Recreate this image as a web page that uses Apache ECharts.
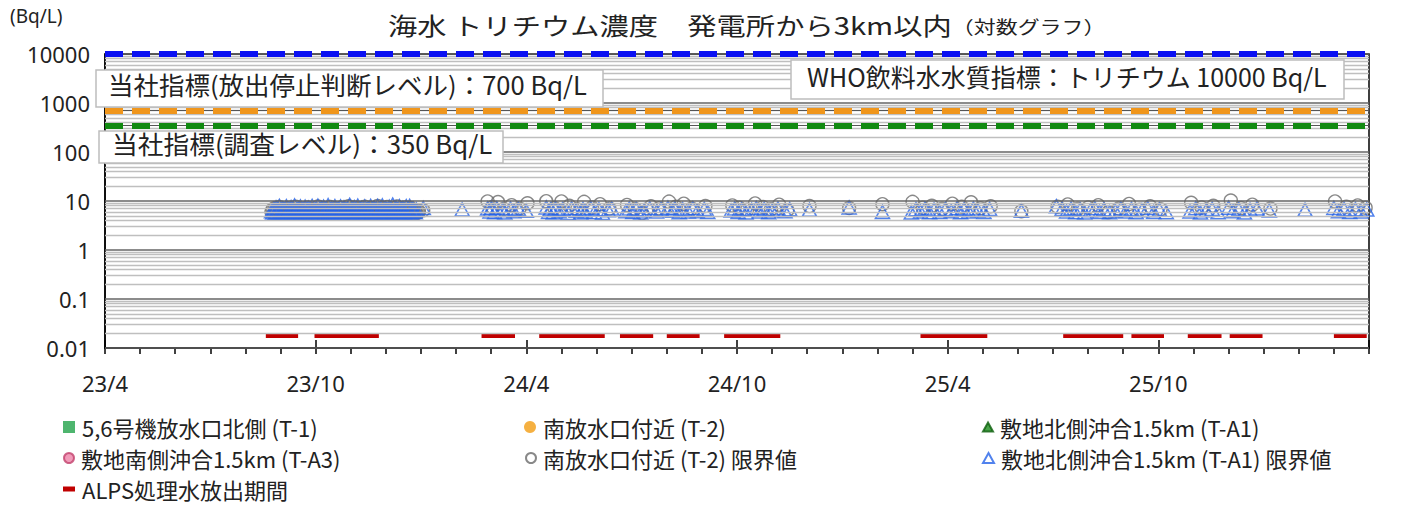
<!DOCTYPE html>
<html><head><meta charset="utf-8">
<script src="https://cdn.jsdelivr.net/npm/echarts@6/dist/echarts.min.js"></script>
<style>html,body{margin:0;padding:0;background:#fff}#c{width:1408px;height:506px}</style>
</head><body><div id="c"></div>
<script>
// ---------- DATA ----------
const xTickLabels = ['23/4','23/10','24/4','24/10','25/4','25/10'];
const yTickLabels = ['0.01','0.1','1','10','100','1000','10000'];
const refValues = [10000, 700, 350];        // WHO, 放出停止判断, 調査レベル
const alpsLevel = 0.018;
const alpsPeriods = [
  ['2023-08-19','2023-09-16'],['2023-09-30','2023-11-25'],
  ['2024-02-22','2024-03-22'],['2024-04-12','2024-06-08'],
  ['2024-06-21','2024-07-20'],['2024-08-01','2024-08-30'],
  ['2024-09-20','2024-11-08'],['2025-03-08','2025-05-05'],
  ['2025-07-10','2025-09-01'],['2025-09-08','2025-10-06'],
  ['2025-10-27','2025-11-25'],['2025-12-02','2025-12-31'],
  ['2026-03-01','2026-03-30']
];
// daily detection-limit values, first discharge period (start date + one value per day)
const dailyStart = '2023-08-24';
const tA1Daily = [6.2,5.8,6.9,5.6,7.4,6.0,6.6,7.9,5.7,6.3,7.1,5.9,6.5,7.8,5.6,6.1,6.8,7.5,5.8,6.4,8.1,6.0,5.7,7.0,6.3,7.7,5.9,6.6,6.1,7.6,5.6,6.9,7.3,6.2,5.8,7.9,6.4,6.0,6.7,5.7,8.0,6.5,5.9,7.2,6.1,7.6,5.6,6.8,6.3,8.2,5.8,6.5,7.1,6.0,5.7,7.8,6.4,6.1,6.9,5.9,7.7,6.2,5.6,7.4,6.6,6.0,7.0,5.8,8.3,6.3,6.7,5.7,7.5,6.1,6.4,8.0,5.9,6.8,7.2,6.0,5.6,7.7,6.5,6.2,7.0,5.8,7.9,6.6,6.0,7.3,5.7,6.4,7.9,6.1,5.9,6.9,8.1,6.3,5.6,7.1,6.5,6.0,7.6,5.8,6.7,8.4,6.2,5.7,7.4,6.4,6.0,7.8,5.9,6.6,7.2,6.1,5.6,7.8,6.3,6.8,7.9,5.8,6.5,7.0,6.2,5.9,6.7];
const t2Daily = [6.0,6.8,5.6,7.2,6.3,5.8,6.6,7.5,5.7,6.2,6.9,5.9,6.4,7.0,5.6,6.1,7.3,6.5,5.8,6.7,6.0,7.6,5.7,6.3,6.9,5.9,6.2,7.1,5.6,6.6,6.0,7.4,5.8,6.4,6.8,5.7,6.1,7.0,6.5,5.9,7.7,6.2,5.6,6.7,6.0,7.2,5.8,6.4,6.9,5.7,6.3,7.5,6.0,5.9,6.6,7.1,5.6,6.2,6.8,5.8,7.3,6.4,5.7,6.1,7.0,6.5,5.9,7.8,6.0,5.6,6.7,6.3,7.4,5.8,6.2,6.9,5.7,6.5,7.1,6.0,5.9,7.6,6.3,5.6,6.8,6.1,7.2,5.8,6.4,7.0,5.7,6.6,7.9,6.0,5.9,6.3,7.3,5.6,6.7,6.2,7.5,5.8,6.1,6.9,5.7,6.4,7.1,6.0,5.6,7.7,6.5,5.9,6.2,7.0,5.8,6.6,7.4,5.7,6.3,5.6,6.8,7.2,6.1,5.9,5.5,6.0,5.6,5.8,6.1];
// later sampling (date, value)
const tA1Later = [
  ['2024-01-03',7.2],['2024-02-06',6.7],
  ['2024-02-27',7.0],['2024-02-29',6.1],['2024-03-01',7.3],['2024-03-04',5.9],['2024-03-06',7.1],['2024-03-11',6.5],['2024-03-13',5.8],['2024-03-18',7.0],['2024-03-21',6.2],['2024-03-25',6.9],['2024-04-01',6.3],
  ['2024-04-18',7.4],['2024-04-20',6.0],['2024-04-22',6.9],['2024-04-24',5.8],['2024-04-26',7.0],['2024-04-29',6.2],['2024-05-02',6.8],['2024-05-07',5.7],['2024-05-10',7.1],['2024-05-14',6.3],['2024-05-18',5.8],['2024-05-20',6.9],['2024-05-22',6.1],['2024-05-27',7.2],['2024-05-30',5.9],['2024-06-03',6.8],['2024-06-06',5.7],['2024-06-11',6.5],['2024-06-14',7.0],
  ['2024-06-26',6.2],['2024-06-29',7.0],['2024-07-02',6.0],['2024-07-05',6.8],['2024-07-09',5.8],['2024-07-12',6.4],['2024-07-17',7.1],['2024-07-23',6.1],['2024-07-27',6.9],
  ['2024-08-02',7.3],['2024-08-06',6.3],['2024-08-08',7.0],['2024-08-12',5.9],['2024-08-15',6.8],['2024-08-20',6.1],['2024-08-24',7.1],['2024-08-28',6.2],['2024-09-03',6.9],['2024-09-06',6.0],
  ['2024-09-26',6.4],['2024-09-29',7.0],['2024-10-02',6.0],['2024-10-05',6.8],['2024-10-09',5.8],['2024-10-14',6.6],['2024-10-18',7.2],['2024-10-21',6.1],['2024-10-25',6.9],['2024-10-29',5.9],['2024-11-01',6.4],['2024-11-06',7.0],['2024-11-12',6.2],['2024-11-16',6.8],
  ['2024-12-03',6.6],['2025-01-07',7.4],['2025-02-05',6.0],
  ['2025-02-28',5.8],['2025-03-04',6.8],['2025-03-08',6.1],['2025-03-12',7.0],['2025-03-16',5.9],['2025-03-20',6.7],['2025-03-25',6.0],['2025-03-30',6.9],['2025-04-04',6.2],['2025-04-09',7.1],['2025-04-12',5.9],['2025-04-15',6.8],['2025-04-19',6.1],['2025-04-23',7.0],['2025-04-27',6.4],['2025-05-02',6.0],['2025-05-07',6.9],
  ['2025-06-04',6.3],
  ['2025-07-04',7.8],['2025-07-09',6.9],['2025-07-13',6.1],['2025-07-17',7.0],['2025-07-21',5.9],['2025-07-25',6.7],['2025-07-29',5.8],['2025-08-03',6.5],['2025-08-07',7.1],['2025-08-11',6.0],['2025-08-15',6.8],['2025-08-20',5.9],['2025-08-25',6.3],['2025-08-30',7.0],['2025-09-03',6.1],['2025-09-08',6.9],['2025-09-12',5.9],['2025-09-17',6.5],['2025-09-22',7.2],['2025-09-27',6.0],['2025-10-02',6.7],['2025-10-08',5.9],
  ['2025-10-29',6.1],['2025-11-03',7.1],['2025-11-07',5.8],['2025-11-12',6.5],['2025-11-17',6.9],['2025-11-22',5.9],['2025-12-01',7.3],['2025-12-05',6.2],['2025-12-10',6.8],['2025-12-15',5.8],['2025-12-20',6.6],['2025-12-26',7.0],['2026-01-06',6.4],
  ['2026-02-06',6.6],
  ['2026-03-01',7.2],['2026-03-05',6.2],['2026-03-10',6.9],['2026-03-15',6.0],['2026-03-20',6.8],['2026-03-25',6.1],['2026-03-30',6.7]
];
const t2Later = [
  ['2023-12-30',6.1],['2024-01-03',6.5],
  ['2024-02-27',9.8],['2024-03-02',7.5],['2024-03-07',9.5],['2024-03-12',6.9],['2024-03-19',8.2],['2024-03-26',7.0],['2024-04-02',9.0],
  ['2024-04-18',9.9],['2024-04-25',7.2],['2024-05-01',9.8],['2024-05-08',8.0],['2024-05-15',6.8],['2024-05-21',9.6],['2024-05-28',7.4],['2024-06-04',8.6],['2024-06-12',7.0],
  ['2024-06-27',8.3],['2024-07-04',6.9],['2024-07-10',5.6],['2024-07-18',7.8],['2024-07-25',7.1],
  ['2024-08-03',9.7],['2024-08-09',7.6],['2024-08-16',8.8],['2024-08-23',7.0],['2024-09-04',7.9],
  ['2024-09-27',8.1],['2024-10-03',7.3],['2024-10-10',6.6],['2024-10-17',8.9],['2024-10-24',7.5],['2024-10-31',6.8],['2024-11-07',8.4],['2024-11-14',6.5],
  ['2024-12-03',7.9],['2025-01-07',7.2],['2025-02-05',8.6],
  ['2025-03-01',9.6],['2025-03-10',7.3],['2025-03-18',8.0],['2025-03-27',6.9],['2025-04-05',8.8],['2025-04-13',7.6],['2025-04-21',9.4],['2025-04-29',7.1],['2025-05-08',7.8],
  ['2025-06-04',6.2],
  ['2025-07-05',7.6],['2025-07-14',8.5],['2025-07-23',6.9],['2025-08-01',7.4],['2025-08-10',8.2],['2025-08-19',5.9],['2025-08-28',7.0],['2025-09-06',8.7],['2025-09-15',6.6],['2025-09-24',7.8],['2025-10-03',6.8],
  ['2025-10-30',9.2],['2025-11-08',7.4],['2025-11-18',8.0],['2025-12-03',10.2],['2025-12-12',7.2],['2025-12-22',8.4],['2026-01-07',7.0],
  ['2026-03-02',9.8],['2026-03-12',7.6],['2026-03-22',8.1],['2026-03-29',7.3]
];

// ---------- HELPERS ----------
function mi(d){ const p=d.split('-').map(Number); const dim=new Date(p[0],p[1],0).getDate(); return (p[0]-2023)*12+(p[1]-4)+(p[2]-1)/dim; }
function dailyPoints(start, vals){ const t0=new Date(start+'T00:00:00'); return vals.map((v,i)=>{const d=new Date(t0.getTime()+i*86400000); const s=d.getFullYear()+'-'+(d.getMonth()+1)+'-'+d.getDate(); return [mi(s),v];}); }
const FONT='"Noto Sans CJK JP","Noto Sans",sans-serif';
const minorVals=[], majorVals=[];
for(let e=-2;e<=4;e++){ majorVals.push(Math.pow(10,e)); if(e<4) for(let k=2;k<=9;k++) minorVals.push(k*Math.pow(10,e)); }
const refColors=['#0a10f2','#f0961c','#118a11'];

const tA1Pts = dailyPoints(dailyStart,tA1Daily).concat(tA1Later.map(p=>[mi(p[0]),p[1]]));
const t2Pts = dailyPoints(dailyStart,t2Daily).concat(t2Later.map(p=>[mi(p[0]),p[1]]));
const alpsData = alpsPeriods.map(p=>[mi(p[0]),mi(p[1]),alpsLevel]);

const names = ['5,6号機放水口北側 (T-1)','南放水口付近 (T-2)','敷地北側沖合1.5km (T-A1)','敷地南側沖合1.5km (T-A3)','南放水口付近 (T-2) 限界値','敷地北側沖合1.5km (T-A1) 限界値','ALPS処理水放出期間'];

const chart = echarts.init(document.getElementById('c'), null, {renderer:'svg'});
const legendPos = [[63,416],[524,416],[982,416],[63,447],[525,447],[982,447],[63,478]];
const legendIcons = [
  {icon:'rect',w:12,h:12},{icon:'circle',w:12,h:12},{icon:'triangle',w:10,h:9},
  {icon:'circle',w:10,h:10},{icon:'circle',w:10,h:10},{icon:'triangle',w:11,h:10},{icon:'rect',w:12,h:5}
];
const legends = names.map((n,i)=>({
  data:[n], left:legendPos[i][0], top:legendPos[i][1], itemWidth:legendIcons[i].w, itemHeight:legendIcons[i].h,
  icon:legendIcons[i].icon, itemGap:0, padding:0, selectedMode:false,
  textStyle:{fontFamily:FONT,fontSize:22,color:'#222',padding:[0,0,0,2]}
}));

const option = {
  animation:false,
  backgroundColor:'#fff',
  grid:{left:105,right:39,top:54,bottom:158,show:true,borderColor:'#000',borderWidth:1.5,backgroundColor:'transparent'},
  legend: legends,
  xAxis:[
    {type:'value',min:0,max:36,interval:1,axisLine:{lineStyle:{color:'#000',width:1.5}},
     axisTick:{show:true,inside:false,length:6,lineStyle:{color:'#000',width:1.5}},axisLabel:{show:false},splitLine:{show:false}},
    {type:'value',min:0,max:36,interval:6,position:'bottom',offset:0,axisLine:{show:false},
     axisTick:{show:true,inside:true,length:8,lineStyle:{color:'#000',width:1.5}},
     axisLabel:{show:true,margin:24,fontFamily:'"Noto Sans",sans-serif',fontSize:22,color:'#222',
       formatter:v=>{const i=Math.round(v/6); return i<xTickLabels.length?xTickLabels[i]:'';}},splitLine:{show:false}}
  ],
  yAxis:{type:'log',logBase:10,min:0.01,max:10000,splitNumber:6,
    axisLine:{show:true,lineStyle:{color:'#000',width:1.5}},axisTick:{show:false},splitLine:{show:false},
    axisLabel:{margin:15,fontFamily:'"Noto Sans",sans-serif',fontSize:22,color:'#222',
      formatter:v=>{const i=Math.round(Math.log10(v))+2; return yTickLabels[i]||'';}}},
  series:[
    {type:'line',name:'_grid',data:[],silent:true,z:1,
     markLine:{silent:true,symbol:'none',label:{show:false},animation:false,
       data:minorVals.map(v=>({yAxis:v,lineStyle:{color:'#bfbfbf',width:1.3,type:'solid'}}))
        .concat(majorVals.map(v=>({yAxis:v,lineStyle:{color:'#666',width:1.7,type:'solid'}})))}},
    {type:'scatter',name:names[0],data:[],symbol:'rect',symbolSize:10,itemStyle:{color:'#22a24a'}},
    {type:'scatter',name:names[1],data:[],symbol:'circle',symbolSize:10,itemStyle:{color:'#f39c12'}},
    {type:'scatter',name:names[2],data:[],symbol:'triangle',symbolSize:10,itemStyle:{color:'#1c8c1c',borderColor:'#0b5e0b',borderWidth:1}},
    {type:'scatter',name:names[3],data:[],symbol:'circle',symbolSize:10,itemStyle:{color:'#ee82a8',borderColor:'#c2406c',borderWidth:1}},
    {type:'scatter',name:names[4],data:t2Pts,symbol:'circle',symbolSize:13,z:3,
     itemStyle:{color:'rgba(255,255,255,0)',borderColor:'#6a6a6a',borderWidth:1.4}},
    {type:'scatter',name:names[5],data:tA1Pts,symbol:'triangle',symbolSize:[14,13],z:4,
     itemStyle:{color:'rgba(255,255,255,0)',borderColor:'#2563e8',borderWidth:1.6}},
    {type:'custom',name:names[6],data:alpsData,z:4,encode:{x:[0,1],y:2},itemStyle:{color:'#c00000'},
     renderItem:(params,api)=>{const s=api.coord([api.value(0),api.value(2)]);const e=api.coord([api.value(1),api.value(2)]);
       return {type:'line',shape:{x1:s[0],y1:s[1],x2:e[0],y2:e[1]},style:{stroke:'#c00000',lineWidth:5,lineCap:'butt'}};}},
    {type:'line',name:'_ref',data:[],silent:true,z:6,
     markLine:{silent:true,symbol:'none',label:{show:false},animation:false,
       data:refValues.map((v,i)=>({yAxis:v,lineStyle:{color:'#555',width:1.2,type:'solid'}}))
        .concat(refValues.map((v,i)=>({yAxis:v,lineStyle:{color:refColors[i],width:6,type:[18,9],cap:'butt'}})))}}
  ],
  graphic:[
    {type:'text',left:10,top:6,style:{text:'(Bq/L)',font:'19px "Noto Sans",sans-serif',fill:'#222'}},
    {type:'text',x:388,y:13,scaleX:1.22,z:100,style:{text:'{a|海水 トリチウム濃度　発電所から3km以内}{b|（対数グラフ）}',
      rich:{a:{fontFamily:FONT,fontSize:24,fill:'#222'},b:{fontFamily:FONT,fontSize:18,fill:'#222',padding:[3,0,0,0]}}}},
    {type:'rect',z:100,shape:{x:96,y:70,width:507,height:37},style:{fill:'#fff',stroke:'#bdbdbd',lineWidth:1.5}},
    {type:'text',z:101,x:108,y:72,scaleX:1.02,style:{text:'当社指標(放出停止判断レベル)：700 Bq/L',fontFamily:FONT,fontSize:25,fill:'#222'}},
    {type:'rect',z:100,shape:{x:791,y:60,width:553,height:39},style:{fill:'#fff',stroke:'#bdbdbd',lineWidth:1.5}},
    {type:'text',z:101,x:807,y:63,scaleX:1.0,style:{text:'WHO飲料水水質指標：トリチウム 10000 Bq/L',fontFamily:FONT,fontSize:25,fill:'#222'}},
    {type:'rect',z:100,shape:{x:99,y:131,width:404,height:32},style:{fill:'#fff',stroke:'#bdbdbd',lineWidth:1.5}},
    {type:'text',z:101,x:112,y:131,scaleX:1.03,style:{text:'当社指標(調査レベル)：350 Bq/L',fontFamily:FONT,fontSize:25,fill:'#222'}}
  ]
};
chart.setOption(option);
</script></body></html>
